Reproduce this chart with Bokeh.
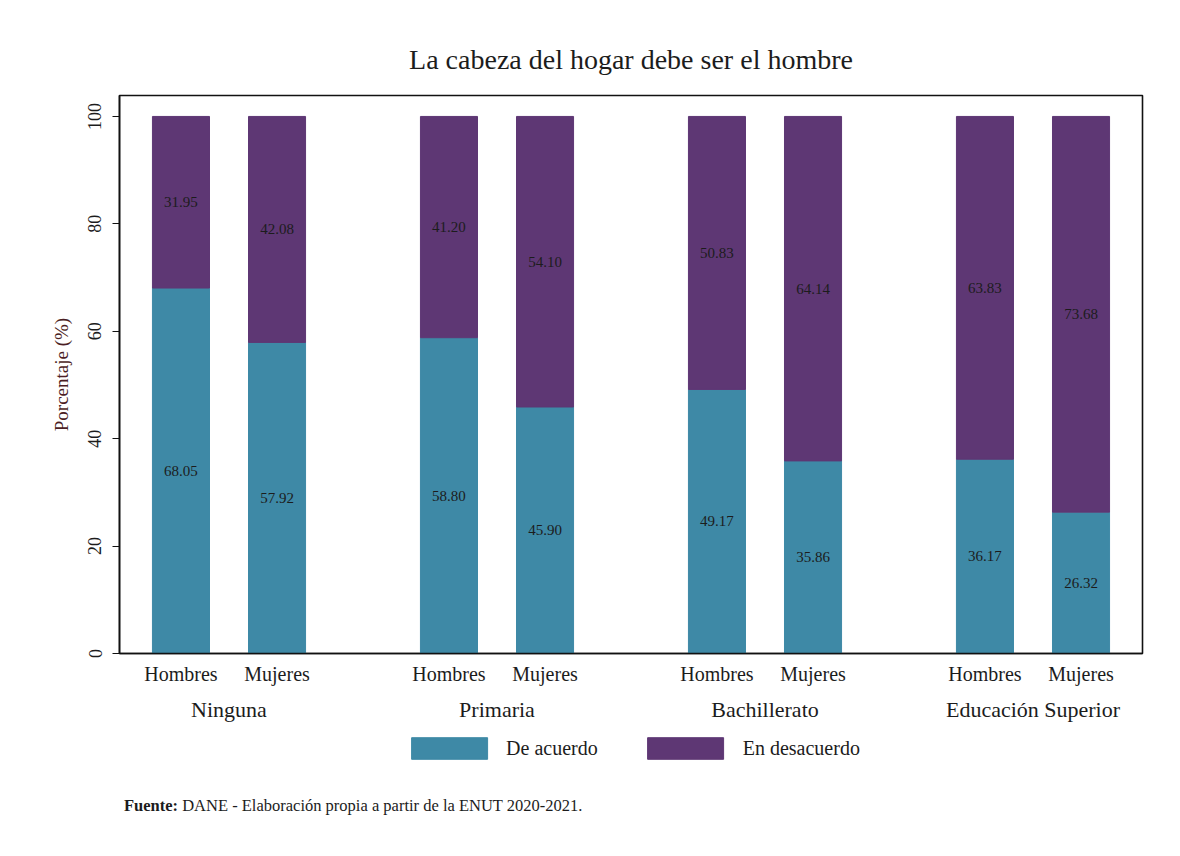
from bokeh.plotting import figure
from bokeh.models import (ColumnDataSource, FactorRange, Range1d, Legend, LegendItem,
                          LinearAxis, CategoricalAxis, FixedTicker, Div, Title)
from bokeh.layouts import column
from bokeh.core.properties import value
from bokeh.embed import file_html
from bokeh.resources import INLINE

# ---- data ----
niveles = ["Ninguna", "Primaria", "Bachillerato", "Educación Superior"]
sexos = ["Hombres", "Mujeres"]
de_acuerdo = [68.05, 57.92, 58.80, 45.90, 49.17, 35.86, 36.17, 26.32]
en_desacuerdo = [31.95, 42.08, 41.20, 54.10, 50.83, 64.14, 63.83, 73.68]
series = ["De acuerdo", "En desacuerdo"]
y_ticks = [0, 20, 40, 60, 80, 100]
titulo = "La cabeza del hogar debe ser el hombre"
fuente_b = "Fuente:"
fuente_t = "DANE - Elaboración propia a partir de la ENUT 2020-2021."

TEAL = "#3E89A6"
PURPLE = "#5E3774"
COLORS = [TEAL, PURPLE]
FONT = "Liberation Serif"
TXT = "#1c1c1c"

factors = [(n, s) for n in niveles for s in sexos]
src = ColumnDataSource(dict(
    x=factors,
    a=de_acuerdo,
    d=en_desacuerdo,
    ya=[v / 2 for v in de_acuerdo],
    yd=[a + d / 2 for a, d in zip(de_acuerdo, en_desacuerdo)],
    la=["%.2f" % v for v in de_acuerdo],
    ld=["%.2f" % v for v in en_desacuerdo],
))

xr = FactorRange(factors=factors, factor_padding=0.0, group_padding=0.79,
                 range_padding=0.027, range_padding_units="percent")
p = figure(width=1172, height=730, x_range=xr, y_range=Range1d(0, 103.9),
           output_backend="svg", toolbar_location=None,
           min_border_left=119, min_border_right=30, min_border_top=95,
           min_border_bottom=77, x_axis_location=None, y_axis_location=None)
p.background_fill_color = "white"
p.border_fill_color = "white"
p.outline_line_color = "#111111"
p.outline_line_width = 1.6
p.xgrid.visible = False
p.ygrid.visible = False

p.title = Title(text=titulo, align="center", text_font=FONT, text_font_size="28px",
                text_font_style="normal", text_color=TXT, standoff=42)

rs = p.vbar_stack(["a", "d"], x="x", width=0.594, source=src,
                  fill_color=COLORS, line_color=COLORS, line_width=1)

for ycol, tcol in (("ya", "la"), ("yd", "ld")):
    p.text(x="x", y=ycol, text=tcol, source=src, text_align="center",
           text_baseline="middle", text_font=value(FONT), text_font_size="15px",
           text_color=TXT)

# y axis
ya = LinearAxis(ticker=FixedTicker(ticks=y_ticks), axis_label="Porcentaje (%)")
ya.axis_line_color = "#111111"
ya.axis_line_width = 1.6
ya.major_tick_line_color = "#111111"
ya.major_tick_out = 7
ya.major_tick_in = 0
ya.minor_tick_line_color = None
ya.major_label_orientation = "vertical"
ya.major_label_text_font = FONT
ya.major_label_text_font_size = "18px"
ya.major_label_text_color = TXT
ya.major_label_standoff = 11
ya.axis_label_text_font = FONT
ya.axis_label_text_font_size = "19px"
ya.axis_label_text_font_style = "normal"
ya.axis_label_text_color = "#4b1e24"
ya.axis_label_standoff = 14
p.add_layout(ya, "left")

# x axis
xa = CategoricalAxis()
xa.axis_line_color = "#111111"
xa.axis_line_width = 1.6
xa.major_tick_line_color = None
xa.major_tick_out = 0
xa.major_tick_in = 0
xa.minor_tick_line_color = None
xa.major_label_text_font = FONT
xa.major_label_text_font_size = "20px"
xa.major_label_text_color = TXT
xa.major_label_standoff = 9
xa.group_text_font = FONT
xa.group_text_font_size = "22px"
xa.group_text_font_style = "normal"
xa.group_text_color = TXT
xa.separator_line_color = None
p.add_layout(xa, "below")

# legend strip: a small figure under the main one;
# its (hidden) renderers only provide the legend swatches
pl = figure(width=1172, height=67, x_range=Range1d(0, 1), y_range=Range1d(0, 1),
            output_backend="svg", toolbar_location=None,
            min_border_left=84, min_border_right=30, min_border_top=0,
            min_border_bottom=31, x_axis_location=None, y_axis_location=None)
pl.outline_line_color = None
pl.xgrid.visible = False
pl.ygrid.visible = False
leg_src = ColumnDataSource(dict(i=list(range(len(series))), v=[de_acuerdo[0], en_desacuerdo[0]]))
lr = []
for i, c in enumerate(COLORS):
    r = pl.vbar(x="i", top="v", width=0.5, source=leg_src, fill_color=c, line_color=c)
    r.visible = False
    lr.append(r)
legend = Legend(items=[LegendItem(label=series[i], renderers=[lr[i]]) for i in range(2)],
                orientation="horizontal", location="center",
                glyph_width=95, glyph_height=27, label_standoff=10, spacing=40,
                padding=0, margin=0, border_line_color=None,
                inactive_fill_alpha=0,
                background_fill_alpha=0, label_text_font=FONT,
                label_text_font_size="20px", label_text_color=TXT)
pl.add_layout(legend, "center")

footer = Div(text="<b>%s</b> %s" % (fuente_b, fuente_t), width=800, height=30,
             margin=(0, 0, 0, 124),
             styles={"font-family": FONT, "font-size": "16.5px", "color": TXT,
                     "line-height": "18px"})

layout = column(p, pl, footer, spacing=0)
open("out.html", "w").write(file_html(layout, INLINE))
